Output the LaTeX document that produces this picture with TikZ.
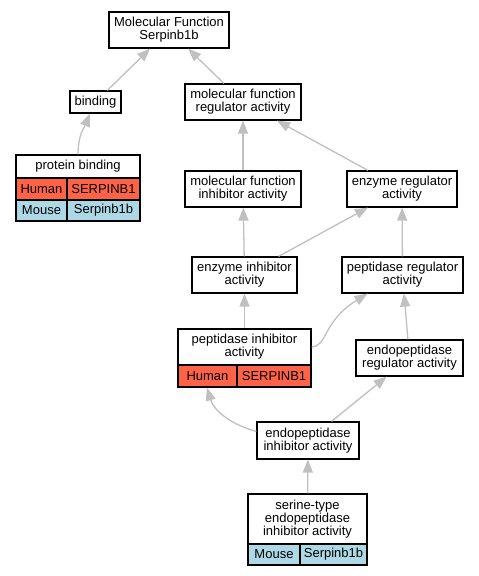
\documentclass[tikz,border=0pt]{standalone}
\usepackage{fontspec}
\setmainfont{Liberation Sans}
\usetikzlibrary{arrows.meta}
\definecolor{humanc}{HTML}{FF6347}
\definecolor{mousec}{HTML}{ADD8E6}
\definecolor{edgec}{RGB}{192,192,192}
\begin{document}
\begin{tikzpicture}[x=1pt,y=-1pt,
  box/.style={draw=black, line width=1.2pt, fill=white, inner sep=0pt, align=center, font=\fontsize{13}{12.8}\selectfont},
  human/.style={box, fill=humanc},
  mouse/.style={box, fill=mousec},
  edge/.style={draw=edgec, line width=1.3pt, -{Triangle[length=13pt,width=10pt]}}]
\fill[white] (0,0) rectangle (479,576);
\useasboundingbox (0,0) rectangle (479,576);

\node[box, minimum width=120pt, minimum height=36pt] (mf) at (169,30) {Molecular Function\\Serpinb1b};
\node[box, minimum width=51pt, minimum height=22pt] (binding) at (95.5,102) {binding};
\node[box, minimum width=116pt, minimum height=36pt] (mfra) at (243,102) {molecular function\\regulator activity};

\node[box, minimum width=124pt, minimum height=23pt] (pb) at (78,166.5) {protein binding};
\node[human, minimum width=51pt, minimum height=22pt] (pbh) at (41.5,189) {Human};
\node[human, minimum width=73pt, minimum height=22pt] (pbhg) at (103.5,189) {SERPINB1};
\node[mouse, minimum width=51pt, minimum height=21pt] (pbm) at (41.5,210.5) {Mouse};
\node[mouse, minimum width=73pt, minimum height=21pt] (pbmg) at (103.5,210.5) {Serpinb1b};

\node[box, minimum width=116pt, minimum height=36pt] (mfia) at (243,189) {molecular function\\inhibitor activity};
\node[box, minimum width=110pt, minimum height=36pt] (era) at (402,189) {enzyme regulator\\activity};

\node[box, minimum width=105pt, minimum height=36pt] (eia) at (244.5,275) {enzyme inhibitor\\activity};
\node[box, minimum width=121pt, minimum height=36pt] (pra) at (402.5,275) {peptidase regulator\\activity};

\node[box, minimum width=133pt, minimum height=36pt] (pia) at (244.5,347) {peptidase inhibitor\\activity};
\node[human, minimum width=59pt, minimum height=22pt] (piah) at (207.5,376) {Human};
\node[human, minimum width=74pt, minimum height=22pt] (piahg) at (274,376) {SERPINB1};

\node[box, minimum width=107pt, minimum height=36pt] (epra) at (409.5,358) {endopeptidase\\regulator activity};
\node[box, minimum width=102pt, minimum height=37pt] (epia) at (308,440.5) {endopeptidase\\inhibitor activity};

\node[box, minimum width=119pt, minimum height=50pt] (ser) at (307.5,519) {serine-type\\endopeptidase\\inhibitor activity};
\node[mouse, minimum width=52pt, minimum height=21pt] (serm) at (274,554.5) {Mouse};
\node[mouse, minimum width=67pt, minimum height=21pt] (sermg) at (333.5,554.5) {Serpinb1b};

\draw[edge] (binding) -- (mf);
\draw[edge] (mfra) -- (mf);
\draw[edge] (pb.north) .. controls (78,135) and (84,128) .. ([xshift=-5.5pt]binding.south);
\draw[edge] (mfia) -- (mfra);
\draw[edge] (era) -- (mfra);
\draw[edge] (eia) -- (mfia);
\draw[edge] (eia) -- (era);
\draw[edge] (pra) -- (era);
\draw[edge] (pia) -- (eia);
\draw[edge] (pia.east) .. controls (328,346) and (322,322) .. ([xshift=26pt]pra.south west);
\draw[edge] (epra) -- (pra);
\draw[edge] (epia.170) .. controls (232,425) and (214,411) .. ([xshift=-0.5pt]piah.south);
\draw[edge] (epia) -- (epra);
\draw[edge] (ser) -- (epia);
\end{tikzpicture}
\end{document}
